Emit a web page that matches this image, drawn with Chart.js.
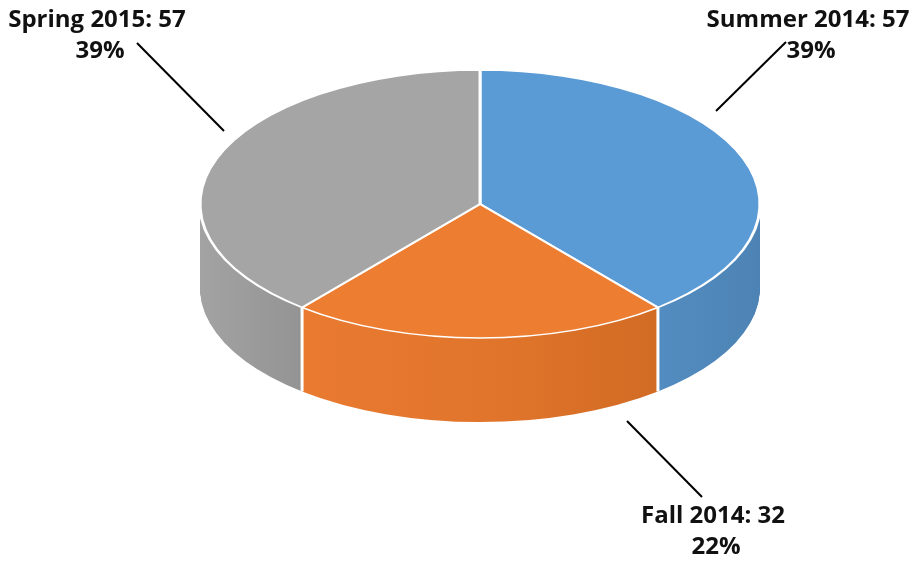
<!DOCTYPE html>
<html>
<head>
<meta charset="utf-8">
<script src="https://cdn.jsdelivr.net/npm/chart.js@4"></script>
<style>
  body { margin: 0; background: #fff; }
  canvas { display: block; }
</style>
</head>
<body>
<canvas id="pie-chart" width="915" height="564"></canvas>
<script>
// Chart data
const seasons = ['Summer 2014', 'Fall 2014', 'Spring 2015'];
const counts = [57, 32, 57];
const percents = ['39%', '22%', '39%'];

const topColors = ['#5B9BD5', '#ED7D31', '#A5A5A5'];

// where the squashed pie sits on the page
const CX = 480, CY = 204, RX = 280, RY = 134, DEPTH = 84;

// label positions and leader lines
const labelPos = [
    { x: 808, y: 20, line: [786, 42, 716, 111] },
    { x: 713, y: 516, line: [627, 421, 702, 497] },
    { x: 97, y: 20, line: [137, 43, 224, 131] }
];

function applySquash(ctx, chart, dy) {
    const area = chart.chartArea;
    const r = chart.getDatasetMeta(0).controller.outerRadius;
    const ncx = (area.left + area.right) / 2;
    const ncy = (area.top + area.bottom) / 2;
    ctx.translate(CX, CY + dy);
    ctx.scale(RX / r, RY / r);
    ctx.translate(-ncx, -ncy);
}

function sideGradient(ctx, chart, i) {
    const area = chart.chartArea;
    const g = ctx.createLinearGradient(area.left + (area.width - area.height) / 2, 0,
        area.right - (area.width - area.height) / 2, 0);
    if (i === 0) {
        g.addColorStop(0.6, '#5A97CF');
        g.addColorStop(1, '#4D83B4');
    } else if (i === 1) {
        g.addColorStop(0.15, '#EA7B31');
        g.addColorStop(0.55, '#E0742B');
        g.addColorStop(0.85, '#D06A23');
    } else {
        g.addColorStop(0, '#A3A3A3');
        g.addColorStop(0.25, '#8E8E8E');
    }
    return g;
}

const pie3d = {
    id: 'pie3d',
    beforeDatasetsDraw(chart) {
        const ctx = chart.ctx;
        const meta = chart.getDatasetMeta(0);
        const fills = meta.data.map((arc, i) => sideGradient(ctx, chart, i));

        // side walls: stacked copies of the slices, bottom first
        for (let d = DEPTH; d >= 1; d--) {
            ctx.save();
            applySquash(ctx, chart, d);
            meta.data.forEach((arc, i) => {
                const orig = arc.options;
                arc.options = Object.assign({}, orig, { backgroundColor: fills[i], borderWidth: 0 });
                arc.draw(ctx);
                arc.options = orig;
            });
            ctx.restore();
        }

        // white seams down the side at each slice edge
        ctx.save();
        ctx.strokeStyle = '#fff';
        ctx.lineWidth = 3;
        meta.data.forEach(arc => {
            const x = CX + Math.cos(arc.startAngle) * RX;
            const y = CY + Math.sin(arc.startAngle) * RY;
            ctx.beginPath();
            ctx.moveTo(x, y);
            ctx.lineTo(x, y + DEPTH);
            ctx.stroke();
        });
        ctx.restore();

        // top face drawn by the chart itself, squashed
        ctx.save();
        applySquash(ctx, chart, 0);
    },
    afterDatasetsDraw(chart) {
        chart.ctx.restore();
    },
    afterDraw(chart) {
        const ctx = chart.ctx;
        ctx.save();
        ctx.fillStyle = '#111';
        ctx.strokeStyle = '#000';
        ctx.lineWidth = 2;
        ctx.font = 'bold 24px "Open Sans"';
        ctx.textAlign = 'center';
        ctx.textBaseline = 'middle';
        seasons.forEach((s, i) => {
            const p = labelPos[i];
            ctx.fillText(s + ': ' + counts[i], p.x, p.y);
            ctx.fillText(percents[i], p.x + 3, p.y + 31);
            ctx.beginPath();
            ctx.moveTo(p.line[0], p.line[1]);
            ctx.lineTo(p.line[2], p.line[3]);
            ctx.stroke();
        });
        ctx.restore();
    }
};

new Chart(document.getElementById('pie-chart').getContext('2d'), {
    type: 'pie',
    data: {
        labels: seasons,
        datasets: [{
            data: counts,
            backgroundColor: topColors,
            borderColor: '#fff',
            borderWidth: 3,
            clip: false
        }]
    },
    options: {
        responsive: false,
        animation: false,
        events: [],
        plugins: {
            legend: { display: false },
            tooltip: { enabled: false }
        }
    },
    plugins: [pie3d]
});
</script>
</body>
</html>
